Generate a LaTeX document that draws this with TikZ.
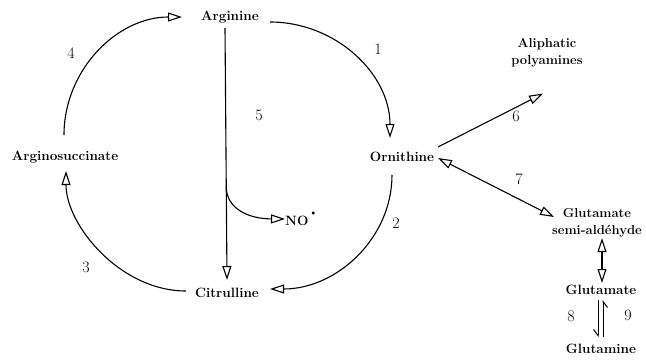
\documentclass[tikz,border=0pt]{standalone}
\usetikzlibrary{arrows.meta,calc}
\begin{document}
\begin{tikzpicture}[x=1pt,y=1pt,
  met/.style={font=\fontsize{13.5}{14}\selectfont\bfseries, inner sep=0pt, align=center},
  num/.style={font=\fontsize{16}{17}\selectfont, inner sep=0pt},
  conn/.style={line width=1.1pt, -{Triangle[open,length=14pt,width=9pt,line width=1.1pt]}},
  dconn/.style={line width=1.1pt, {Triangle[open,length=14pt,width=9pt,line width=1.1pt]}-{Triangle[open,length=14pt,width=9pt,line width=1.1pt]}},
  harp/.style={line width=1pt, -{Straight Barb[harpoon,swap,length=6pt,width=9pt,line width=1pt]}}
]
\useasboundingbox (0,0) rectangle (646,360);
% metabolites
\node[met] (arg)  at (230,343) {Arginine};
\node[met] (asuc) at (65,203) {Arginosuccinate};
\node[met] (orn)  at (402,203) {Ornithine};
\node[met] (cit)  at (227,67) {Citrulline};
\node[met, font=\fontsize{13}{17}\selectfont\bfseries] (ali)  at (547,307) {Aliphatic\\polyamines};
\node[met, font=\fontsize{13}{17}\selectfont\bfseries] (gsa)  at (597,137) {Glutamate\\semi-ald\'ehyde};
\node[met] (glu)  at (601,70) {Glutamate};
\node[met] (gln)  at (601,11) {Glutamine};
\node[met, anchor=west] (no) at (285,141) {NO\raisebox{10pt}{\kern3pt\scalebox{0.55}{$\bullet$}}};
% numbers
\node[num] (n1) at (378,311) {1};
\node[num] (n2) at (396,137) {2};
\node[num] (n3) at (86,93) {3};
\node[num] (n4) at (71,307) {4};
\node[num] (n5) at (259,245) {5};
\node[num] (n6) at (516,244) {6};
\node[num] (n7) at (519,181) {7};
\node[num] (n8) at (571,44) {8};
\node[num] (n9) at (628,45) {9};
% cycle
\draw[conn] ([shift={(-1,22)}]asuc.center) .. controls ([shift={(-1,87)}]asuc.center) and ([shift={(-113,0)}]arg.center) .. ([shift={(-48,0)}]arg.center);
\draw[conn] ([shift={(40,-5)}]arg.center) .. controls ([shift={(106,-5)}]arg.center) and ([shift={(-12,83)}]orn.center) .. ([shift={(-12,19)}]orn.center);
\draw[conn] ([shift={(-10,-18)}]orn.center) .. controls ([shift={(-10,-81)}]orn.center) and ([shift={(110,4)}]cit.center) .. ([shift={(43,4)}]cit.center);
\draw[conn] ([shift={(-41,2)}]cit.center) .. controls ([shift={(-107,2)}]cit.center) and ([shift={(1,-68)}]asuc.center) .. ([shift={(1,-14)}]asuc.center);
% arginine -> citrulline, NO branch
\draw[conn] ([shift={(-5,-11)}]arg.center) -- coordinate[pos=0.63] (br) ([shift={(0,13)}]cit.center);
\draw[conn] (br) .. controls ([shift={(0,-21)}]br) and ([shift={(21,-32)}]br) .. (no.west);
% ornithine side
\draw[conn] ([shift={(36,10)}]orn.center) -- ([shift={(-4,-26)}]ali.south);
\draw[dconn] ([shift={(36,-1)}]orn.center) -- ([shift={(-43,6)}]gsa.center);
\draw[dconn] ([shift={(5,-15)}]gsa.center) -- ([shift={(1,7)}]glu.center);
\draw[harp] ([shift={(-3,-10)}]glu.center) -- ([shift={(-3,12)}]gln.center);
\draw[harp] ([shift={(2,12)}]gln.center) -- ([shift={(2,-10)}]glu.center);
\end{tikzpicture}
\end{document}
